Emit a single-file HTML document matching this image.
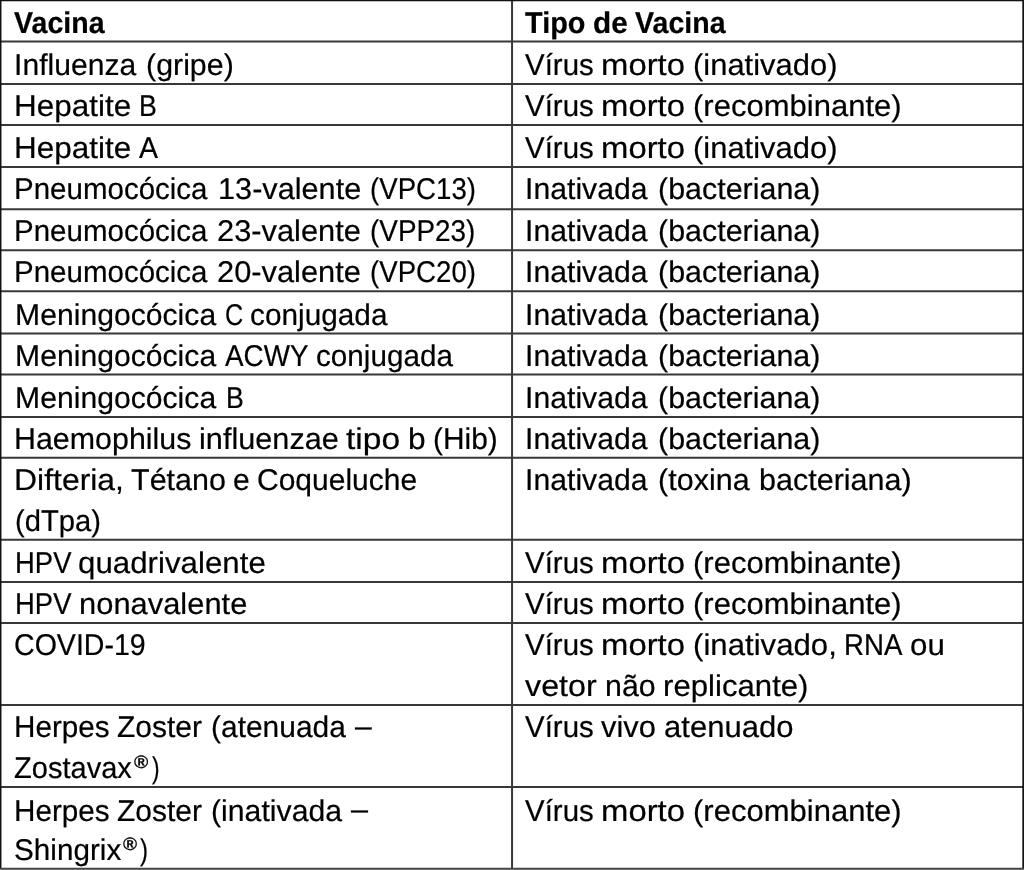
<!DOCTYPE html>
<html lang="pt">
<head>
<meta charset="utf-8">
<title>Vacinas e tipos de vacina</title>
<style>
html,body{margin:0;padding:0;background:#fff;}
body{width:1024px;height:870px;position:relative;overflow:hidden;font-family:"Liberation Sans", sans-serif;font-size:30.0px;color:#000;}
.grid{position:absolute;left:0;top:0;}
.row{position:absolute;left:0;width:1024px;}
.c{position:absolute;top:0;height:100%;}
.l{position:absolute;left:0;white-space:nowrap;line-height:1;}
.w{position:absolute;top:0;transform-origin:0 0;}
.h .l{font-weight:bold;}
.rg{font-size:60.4%;font-weight:bold;}
.l{-webkit-text-stroke:0.2px #000;}
</style>
</head>
<body>
<svg class="grid" width="1024" height="870" viewBox="0 0 1024 870">
<line x1="0" x2="1024" y1="41.60" y2="41.60" stroke="#383838" stroke-width="2"/>
<line x1="0" x2="1024" y1="83.90" y2="83.90" stroke="#383838" stroke-width="2"/>
<line x1="0" x2="1024" y1="125.00" y2="125.00" stroke="#383838" stroke-width="2"/>
<line x1="0" x2="1024" y1="167.00" y2="167.00" stroke="#383838" stroke-width="2"/>
<line x1="0" x2="1024" y1="209.25" y2="209.25" stroke="#383838" stroke-width="2"/>
<line x1="0" x2="1024" y1="250.30" y2="250.30" stroke="#383838" stroke-width="2"/>
<line x1="0" x2="1024" y1="291.30" y2="291.30" stroke="#383838" stroke-width="2"/>
<line x1="0" x2="1024" y1="333.50" y2="333.50" stroke="#383838" stroke-width="2"/>
<line x1="0" x2="1024" y1="374.50" y2="374.50" stroke="#383838" stroke-width="2"/>
<line x1="0" x2="1024" y1="417.00" y2="417.00" stroke="#383838" stroke-width="2"/>
<line x1="0" x2="1024" y1="457.70" y2="457.70" stroke="#383838" stroke-width="2"/>
<line x1="0" x2="1024" y1="539.80" y2="539.80" stroke="#383838" stroke-width="2"/>
<line x1="0" x2="1024" y1="582.00" y2="582.00" stroke="#383838" stroke-width="2"/>
<line x1="0" x2="1024" y1="623.10" y2="623.10" stroke="#383838" stroke-width="2"/>
<line x1="0" x2="1024" y1="705.00" y2="705.00" stroke="#383838" stroke-width="2"/>
<line x1="0" x2="1024" y1="786.90" y2="786.90" stroke="#383838" stroke-width="2"/>
<line x1="512.05" x2="512.05" y1="0" y2="870" stroke="#383838" stroke-width="2"/>
<rect x="0" y="0" width="1024" height="1.27" fill="#111"/>
<rect x="0" y="0" width="1.46" height="870" fill="#111"/>
<rect x="1022.3" y="0" width="1.7" height="870" fill="#151515"/>
<rect x="0" y="867.75" width="1024" height="1.25" fill="#444"/>
<rect x="0" y="869" width="1024" height="1" fill="#707070"/>
</svg>
<div class="table" role="table">
<div class="row h" role="row" style="top:0.45px;height:41.15px">
<div class="c" role="columnheader" style="left:14.40px">
<div class="l" style="top:7.55px"><span class="w" style="left:-0.24px;transform:scaleX(0.9525) skewX(0.05deg)">Vacina</span></div>
</div>
<div class="c" role="columnheader" style="left:525.20px">
<div class="l" style="top:7.55px"><span class="w" style="left:-0.00px;transform:scaleX(0.9633) skewX(0.05deg)">Tipo</span> <span class="w" style="left:67.62px;transform:scaleX(0.9924) skewX(0.05deg)">de</span> <span class="w" style="left:109.49px;transform:scaleX(0.9526) skewX(0.05deg)">Vacina</span></div>
</div>
</div>
<div class="row" role="row" style="top:41.60px;height:42.30px">
<div class="c" role="cell" style="left:14.40px">
<div class="l" style="top:8.40px"><span class="w" style="left:-0.27px;transform:scaleX(1.0042) skewX(0.05deg)">Influenza</span> <span class="w" style="left:132.08px;transform:scaleX(1.0120) skewX(0.05deg)">(gripe)</span></div>
</div>
<div class="c" role="cell" style="left:525.20px">
<div class="l" style="top:8.40px"><span class="w" style="left:-0.26px;transform:scaleX(0.9818) skewX(0.05deg)">Vírus</span> <span class="w" style="left:76.18px;transform:scaleX(1.0952) skewX(0.05deg)">morto</span> <span class="w" style="left:168.08px;transform:scaleX(1.0312) skewX(0.05deg)">(inativado)</span></div>
</div>
</div>
<div class="row" role="row" style="top:83.90px;height:41.10px">
<div class="c" role="cell" style="left:14.40px">
<div class="l" style="top:7.10px"><span class="w" style="left:-0.12px;transform:scaleX(1.0486) skewX(0.05deg)">Hepatite</span> <span class="w" style="left:124.36px;transform:scaleX(0.8906) skewX(0.05deg)">B</span></div>
</div>
<div class="c" role="cell" style="left:525.20px">
<div class="l" style="top:7.10px"><span class="w" style="left:-0.26px;transform:scaleX(0.9818) skewX(0.05deg)">Vírus</span> <span class="w" style="left:76.18px;transform:scaleX(1.0952) skewX(0.05deg)">morto</span> <span class="w" style="left:168.08px;transform:scaleX(1.0341) skewX(0.05deg)">(recombinante)</span></div>
</div>
</div>
<div class="row" role="row" style="top:125.00px;height:42.00px">
<div class="c" role="cell" style="left:14.40px">
<div class="l" style="top:8.00px"><span class="w" style="left:-0.12px;transform:scaleX(1.0486) skewX(0.05deg)">Hepatite</span> <span class="w" style="left:124.44px;transform:scaleX(0.9494) skewX(0.05deg)">A</span></div>
</div>
<div class="c" role="cell" style="left:525.20px">
<div class="l" style="top:8.00px"><span class="w" style="left:-0.26px;transform:scaleX(0.9818) skewX(0.05deg)">Vírus</span> <span class="w" style="left:76.18px;transform:scaleX(1.0952) skewX(0.05deg)">morto</span> <span class="w" style="left:168.08px;transform:scaleX(1.0312) skewX(0.05deg)">(inativado)</span></div>
</div>
</div>
<div class="row" role="row" style="top:167.00px;height:42.25px">
<div class="c" role="cell" style="left:14.40px">
<div class="l" style="top:7.00px"><span class="w" style="left:0.03px;transform:scaleX(0.9833) skewX(0.05deg)">Pneumocócica</span> <span class="w" style="left:203.82px;transform:scaleX(1.0220) skewX(0.05deg)">13-valente</span> <span class="w" style="left:355.21px;transform:scaleX(0.9213) skewX(0.05deg)">(VPC13)</span></div>
</div>
<div class="c" role="cell" style="left:525.20px">
<div class="l" style="top:7.00px"><span class="w" style="left:-0.03px;transform:scaleX(1.0063) skewX(0.05deg)">Inativada</span> <span class="w" style="left:132.57px;transform:scaleX(1.0144) skewX(0.05deg)">(bacteriana)</span></div>
</div>
</div>
<div class="row" role="row" style="top:209.25px;height:41.05px">
<div class="c" role="cell" style="left:14.40px">
<div class="l" style="top:6.75px"><span class="w" style="left:0.03px;transform:scaleX(0.9833) skewX(0.05deg)">Pneumocócica</span> <span class="w" style="left:203.08px;transform:scaleX(1.0273) skewX(0.05deg)">23-valente</span> <span class="w" style="left:355.19px;transform:scaleX(0.9294) skewX(0.05deg)">(VPP23)</span></div>
</div>
<div class="c" role="cell" style="left:525.20px">
<div class="l" style="top:6.75px"><span class="w" style="left:-0.03px;transform:scaleX(1.0063) skewX(0.05deg)">Inativada</span> <span class="w" style="left:132.57px;transform:scaleX(1.0144) skewX(0.05deg)">(bacteriana)</span></div>
</div>
</div>
<div class="row" role="row" style="top:250.30px;height:41.00px">
<div class="c" role="cell" style="left:14.40px">
<div class="l" style="top:6.70px"><span class="w" style="left:0.03px;transform:scaleX(0.9833) skewX(0.05deg)">Pneumocócica</span> <span class="w" style="left:203.08px;transform:scaleX(1.0273) skewX(0.05deg)">20-valente</span> <span class="w" style="left:355.21px;transform:scaleX(0.9213) skewX(0.05deg)">(VPC20)</span></div>
</div>
<div class="c" role="cell" style="left:525.20px">
<div class="l" style="top:6.70px"><span class="w" style="left:-0.03px;transform:scaleX(1.0063) skewX(0.05deg)">Inativada</span> <span class="w" style="left:132.57px;transform:scaleX(1.0144) skewX(0.05deg)">(bacteriana)</span></div>
</div>
</div>
<div class="row" role="row" style="top:291.30px;height:42.20px">
<div class="c" role="cell" style="left:14.40px">
<div class="l" style="top:8.70px"><span class="w" style="left:0.23px;transform:scaleX(1.0051) skewX(0.05deg)">Meningocócica</span> <span class="w" style="left:210.72px;transform:scaleX(0.8400) skewX(0.05deg)">C</span> <span class="w" style="left:235.99px;transform:scaleX(0.9927) skewX(0.05deg)">conjugada</span></div>
</div>
<div class="c" role="cell" style="left:525.20px">
<div class="l" style="top:8.70px"><span class="w" style="left:-0.03px;transform:scaleX(1.0063) skewX(0.05deg)">Inativada</span> <span class="w" style="left:132.57px;transform:scaleX(1.0144) skewX(0.05deg)">(bacteriana)</span></div>
</div>
</div>
<div class="row" role="row" style="top:333.50px;height:41.00px">
<div class="c" role="cell" style="left:14.40px">
<div class="l" style="top:7.50px"><span class="w" style="left:0.23px;transform:scaleX(1.0051) skewX(0.05deg)">Meningocócica</span> <span class="w" style="left:211.06px;transform:scaleX(0.9270) skewX(0.05deg)">ACWY</span> <span class="w" style="left:301.13px;transform:scaleX(0.9891) skewX(0.05deg)">conjugada</span></div>
</div>
<div class="c" role="cell" style="left:525.20px">
<div class="l" style="top:7.50px"><span class="w" style="left:-0.03px;transform:scaleX(1.0063) skewX(0.05deg)">Inativada</span> <span class="w" style="left:132.57px;transform:scaleX(1.0144) skewX(0.05deg)">(bacteriana)</span></div>
</div>
</div>
<div class="row" role="row" style="top:374.50px;height:42.50px">
<div class="c" role="cell" style="left:14.40px">
<div class="l" style="top:8.50px"><span class="w" style="left:0.23px;transform:scaleX(1.0051) skewX(0.05deg)">Meningocócica</span> <span class="w" style="left:211.22px;transform:scaleX(0.8906) skewX(0.05deg)">B</span></div>
</div>
<div class="c" role="cell" style="left:525.20px">
<div class="l" style="top:8.50px"><span class="w" style="left:-0.03px;transform:scaleX(1.0063) skewX(0.05deg)">Inativada</span> <span class="w" style="left:132.57px;transform:scaleX(1.0144) skewX(0.05deg)">(bacteriana)</span></div>
</div>
</div>
<div class="row" role="row" style="top:417.00px;height:40.70px">
<div class="c" role="cell" style="left:14.40px">
<div class="l" style="top:7.00px"><span class="w" style="left:-0.04px;transform:scaleX(1.0131) skewX(0.05deg)">Haemophilus</span> <span class="w" style="left:184.88px;transform:scaleX(1.0225) skewX(0.05deg)">influenzae</span> <span class="w" style="left:331.99px;transform:scaleX(1.1183) skewX(0.05deg)">tipo</span> <span class="w" style="left:393.40px;transform:scaleX(1.0566) skewX(0.05deg)">b</span> <span class="w" style="left:418.81px;transform:scaleX(0.9959) skewX(0.05deg)">(Hib)</span></div>
</div>
<div class="c" role="cell" style="left:525.20px">
<div class="l" style="top:7.00px"><span class="w" style="left:-0.03px;transform:scaleX(1.0063) skewX(0.05deg)">Inativada</span> <span class="w" style="left:132.57px;transform:scaleX(1.0144) skewX(0.05deg)">(bacteriana)</span></div>
</div>
</div>
<div class="row" role="row" style="top:457.70px;height:82.10px">
<div class="c" role="cell" style="left:14.40px">
<div class="l" style="top:7.30px"><span class="w" style="left:-0.16px;transform:scaleX(1.0636) skewX(0.05deg)">Difteria,</span> <span class="w" style="left:116.39px;transform:scaleX(1.0164) skewX(0.05deg)">Tétano</span> <span class="w" style="left:218.65px;transform:scaleX(1.0000) skewX(0.05deg)">e</span> <span class="w" style="left:242.43px;transform:scaleX(1.0000) skewX(0.05deg)">Coqueluche</span></div>
<div class="l" style="top:48.30px"><span class="w" style="left:0.54px;transform:scaleX(0.9734) skewX(0.05deg)">(dTpa)</span></div>
</div>
<div class="c" role="cell" style="left:525.20px">
<div class="l" style="top:7.30px"><span class="w" style="left:-0.03px;transform:scaleX(1.0063) skewX(0.05deg)">Inativada</span> <span class="w" style="left:132.56px;transform:scaleX(1.0170) skewX(0.05deg)">(toxina</span> <span class="w" style="left:233.70px;transform:scaleX(1.0171) skewX(0.05deg)">bacteriana)</span></div>
</div>
</div>
<div class="row" role="row" style="top:539.80px;height:42.20px">
<div class="c" role="cell" style="left:14.40px">
<div class="l" style="top:8.20px"><span class="w" style="left:0.19px;transform:scaleX(0.9153) skewX(0.05deg)">HPV</span> <span class="w" style="left:63.97px;transform:scaleX(1.0423) skewX(0.05deg)">quadrivalente</span></div>
</div>
<div class="c" role="cell" style="left:525.20px">
<div class="l" style="top:8.20px"><span class="w" style="left:-0.26px;transform:scaleX(0.9818) skewX(0.05deg)">Vírus</span> <span class="w" style="left:76.18px;transform:scaleX(1.0952) skewX(0.05deg)">morto</span> <span class="w" style="left:168.08px;transform:scaleX(1.0341) skewX(0.05deg)">(recombinante)</span></div>
</div>
</div>
<div class="row" role="row" style="top:582.00px;height:41.10px">
<div class="c" role="cell" style="left:14.40px">
<div class="l" style="top:7.00px"><span class="w" style="left:0.19px;transform:scaleX(0.9153) skewX(0.05deg)">HPV</span> <span class="w" style="left:64.21px;transform:scaleX(1.0297) skewX(0.05deg)">nonavalente</span></div>
</div>
<div class="c" role="cell" style="left:525.20px">
<div class="l" style="top:7.00px"><span class="w" style="left:-0.26px;transform:scaleX(0.9818) skewX(0.05deg)">Vírus</span> <span class="w" style="left:76.18px;transform:scaleX(1.0952) skewX(0.05deg)">morto</span> <span class="w" style="left:168.08px;transform:scaleX(1.0341) skewX(0.05deg)">(recombinante)</span></div>
</div>
</div>
<div class="row" role="row" style="top:623.10px;height:81.90px">
<div class="c" role="cell" style="left:14.40px">
<div class="l" style="top:6.90px"><span class="w" style="left:-0.43px;transform:scaleX(0.9519) skewX(0.05deg)">COVID-19</span></div>
</div>
<div class="c" role="cell" style="left:525.20px">
<div class="l" style="top:6.90px"><span class="w" style="left:-0.26px;transform:scaleX(0.9818) skewX(0.05deg)">Vírus</span> <span class="w" style="left:76.18px;transform:scaleX(1.0952) skewX(0.05deg)">morto</span> <span class="w" style="left:168.07px;transform:scaleX(1.0393) skewX(0.05deg)">(inativado,</span> <span class="w" style="left:319.10px;transform:scaleX(0.9218) skewX(0.05deg)">RNA</span> <span class="w" style="left:384.88px;transform:scaleX(1.0417) skewX(0.05deg)">ou</span></div>
<div class="l" style="top:47.90px"><span class="w" style="left:-0.04px;transform:scaleX(1.0760) skewX(0.05deg)">vetor</span> <span class="w" style="left:79.51px;transform:scaleX(1.0107) skewX(0.05deg)">não</span> <span class="w" style="left:137.36px;transform:scaleX(1.0386) skewX(0.05deg)">replicante)</span></div>
</div>
</div>
<div class="row" role="row" style="top:705.00px;height:81.90px">
<div class="c" role="cell" style="left:14.40px">
<div class="l" style="top:7.00px"><span class="w" style="left:0.02px;transform:scaleX(0.9893) skewX(0.05deg)">Herpes</span> <span class="w" style="left:103.05px;transform:scaleX(1.0000) skewX(0.05deg)">Zoster</span> <span class="w" style="left:196.43px;transform:scaleX(0.9981) skewX(0.05deg)">(atenuada</span> <span class="w" style="top:-1.5px;left:340.15px;transform:scaleX(1.0030) skewX(0.05deg)">–</span></div>
<div class="l" style="top:48.00px"><span class="w" style="left:0.02px;transform:scaleX(0.9680) skewX(0.05deg)">Zostavax</span><span class="w rg" style="top:-0.16px;left:119.58px;transform:scaleX(1.0745) skewX(0.05deg)">®</span><span class="w" style="left:137.27px;transform:scaleX(0.7613) skewX(0.05deg)">)</span></div>
</div>
<div class="c" role="cell" style="left:525.20px">
<div class="l" style="top:7.00px"><span class="w" style="left:-0.26px;transform:scaleX(0.9818) skewX(0.05deg)">Vírus</span> <span class="w" style="left:76.11px;transform:scaleX(1.0288) skewX(0.05deg)">vivo</span> <span class="w" style="left:138.52px;transform:scaleX(1.0347) skewX(0.05deg)">atenuado</span></div>
</div>
</div>
<div class="row" role="row" style="top:786.90px;height:82.10px">
<div class="c" role="cell" style="left:14.40px">
<div class="l" style="top:9.10px"><span class="w" style="left:0.02px;transform:scaleX(0.9893) skewX(0.05deg)">Herpes</span> <span class="w" style="left:103.05px;transform:scaleX(1.0000) skewX(0.05deg)">Zoster</span> <span class="w" style="left:196.41px;transform:scaleX(1.0078) skewX(0.05deg)">(inativada</span> <span class="w" style="top:-1.5px;left:336.70px;transform:scaleX(1.0209) skewX(0.05deg)">–</span></div>
<div class="l" style="top:48.10px"><span class="w" style="left:-0.49px;transform:scaleX(0.9892) skewX(0.05deg)">Shingrix</span><span class="w rg" style="top:-0.16px;left:108.47px;transform:scaleX(1.0588) skewX(0.05deg)">®</span><span class="w" style="left:125.30px;transform:scaleX(0.8065) skewX(0.05deg)">)</span></div>
</div>
<div class="c" role="cell" style="left:525.20px">
<div class="l" style="top:9.10px"><span class="w" style="left:-0.26px;transform:scaleX(0.9818) skewX(0.05deg)">Vírus</span> <span class="w" style="left:76.18px;transform:scaleX(1.0952) skewX(0.05deg)">morto</span> <span class="w" style="left:168.08px;transform:scaleX(1.0341) skewX(0.05deg)">(recombinante)</span></div>
</div>
</div>
</div>
</body>
</html>
